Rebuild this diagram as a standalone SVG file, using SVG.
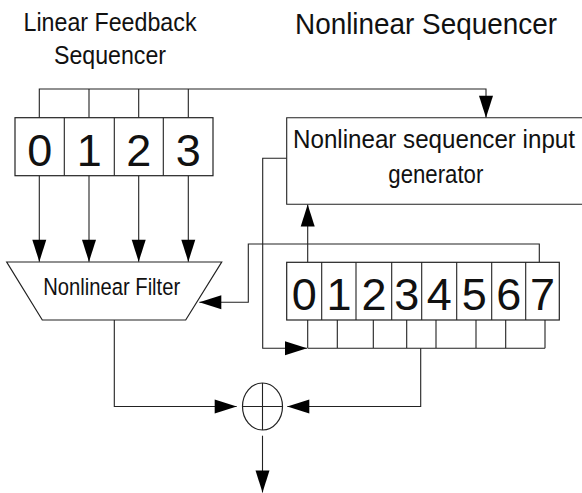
<svg xmlns="http://www.w3.org/2000/svg" width="582" height="493" viewBox="0 0 582 493">
<style>
.ln{fill:none;stroke:#222;stroke-width:1.1}
.box{fill:#fff;stroke:#222;stroke-width:1.2}
.t{font-family:"Liberation Sans",Arial,sans-serif;fill:#111;text-anchor:middle}
.d{font-family:"Liberation Sans",Arial,sans-serif;fill:#111;text-anchor:middle;font-size:45px}
</style>
<defs>
<marker id="ah" markerUnits="userSpaceOnUse" markerWidth="23" markerHeight="15" refX="22" refY="7" orient="auto" overflow="visible">
<path d="M0,0 L22,7 L0,14 Z" fill="#000"/>
</marker>
</defs>
<rect width="582" height="493" fill="#fff"/>

<g id="titles">
<text class="t" x="110" y="31" font-size="25" textLength="173" lengthAdjust="spacingAndGlyphs">Linear Feedback</text>
<text class="t" x="110" y="63.5" font-size="25" textLength="112" lengthAdjust="spacingAndGlyphs">Sequencer</text>
<text class="t" x="426" y="33.5" font-size="30" textLength="262" lengthAdjust="spacingAndGlyphs">Nonlinear Sequencer</text>
</g>

<g id="connectors">
<path class="ln" d="M39.3,117.7 V89 H486 V117.7" marker-end="url(#ah)"/>
<path class="ln" d="M89,89 V117.7 M138.7,89 V117.7 M188.3,89 V117.7"/>
<path class="ln" d="M39.3,175.7 V261.7" marker-end="url(#ah)"/>
<path class="ln" d="M89,175.7 V261.7" marker-end="url(#ah)"/>
<path class="ln" d="M138.7,175.7 V261.7" marker-end="url(#ah)"/>
<path class="ln" d="M188.3,175.7 V261.7" marker-end="url(#ah)"/>
<path class="ln" d="M307.7,262.3 V204.5" marker-end="url(#ah)"/>
<path class="ln" d="M539.3,262.3 V244 H248.3 V302.3 H199.3" marker-end="url(#ah)"/>
<path class="ln" d="M286.7,158.3 H262.7 V348.3 H307" marker-end="url(#ah)"/>
<path class="ln" d="M307.7,348.3 H545 M307.7,320 V348.3 M337.3,320 V348.3 M373.3,320 V348.3 M406.7,320 V348.3 M436,320 V348.3 M476,320 V348.3 M505.7,320 V348.3 M545,320 V348.3"/>
<path class="ln" d="M420.7,348.3 V406.5 H287.3" marker-end="url(#ah)"/>
<path class="ln" d="M114.3,320 V406.5 H236.7" marker-end="url(#ah)"/>
<path class="ln" d="M262.5,435.7 V492.5" marker-end="url(#ah)"/>
</g>

<g id="lfsr">
<rect class="box" x="15" y="117.7" width="198" height="58"/>
<path class="ln" d="M64.3,117.7 V175.7 M114.3,117.7 V175.7 M163.3,117.7 V175.7"/>
<text class="d" x="39.7" y="166">0</text>
<text class="d" x="89.3" y="166">1</text>
<text class="d" x="138.8" y="166">2</text>
<text class="d" x="188.2" y="166">3</text>
</g>

<g id="nsig">
<rect x="286.7" y="117.7" width="295.3" height="86.5" fill="#fff"/>
<path class="ln" d="M582,117.7 H286.7 V204.2 H582" stroke-width="1.2"/>
<text class="t" x="434" y="147.7" font-size="25.5" textLength="282" lengthAdjust="spacingAndGlyphs">Nonlinear sequencer input</text>
<text class="t" x="435.8" y="183.3" font-size="25.5" textLength="95" lengthAdjust="spacingAndGlyphs">generator</text>
</g>

<g id="filter">
<path class="box" d="M6.7,262 H221.7 L185.7,320 H42.3 Z"/>
<text class="t" x="111.7" y="295" font-size="24.5" textLength="137" lengthAdjust="spacingAndGlyphs">Nonlinear Filter</text>
</g>

<g id="nlfsr">
<rect class="box" x="286.7" y="262.3" width="272.6" height="57.7"/>
<path class="ln" d="M321.7,262.3 V320 M356,262.3 V320 M391.7,262.3 V320 M421.7,262.3 V320 M456.7,262.3 V320 M491.7,262.3 V320 M525.7,262.3 V320"/>
<text class="d" x="304.2" y="310">0</text>
<text class="d" x="338.9" y="310">1</text>
<text class="d" x="373.9" y="310">2</text>
<text class="d" x="406.7" y="310">3</text>
<text class="d" x="439.2" y="310">4</text>
<text class="d" x="474.2" y="310">5</text>
<text class="d" x="508.7" y="310">6</text>
<text class="d" x="542.5" y="310">7</text>
</g>

<g id="xor">
<ellipse class="box" cx="262.5" cy="406.5" rx="20" ry="23.5"/>
<path class="ln" d="M242.5,406.5 H282.5 M262.5,383 V430"/>
</g>
</svg>
